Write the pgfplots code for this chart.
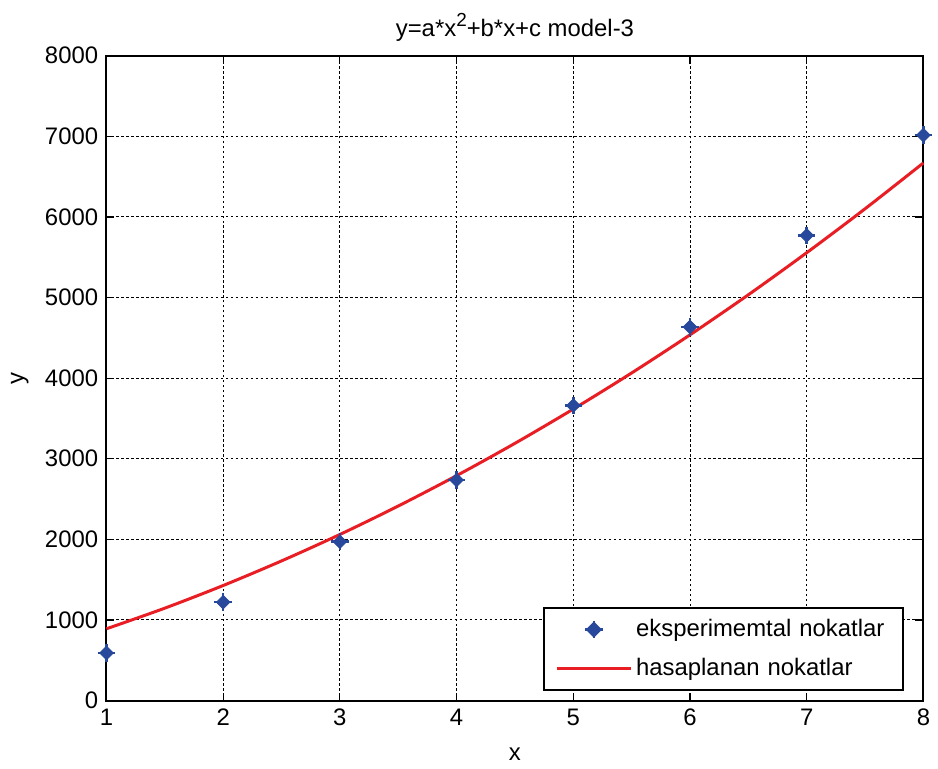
\documentclass[border=0pt]{standalone}
\usepackage{pgfplots}
\pgfplotsset{compat=1.18}
\usepackage{fontspec}
\setmainfont{Liberation Sans}
\definecolor{mblue}{RGB}{40,72,155}
\definecolor{mred}{RGB}{232,30,36}
\pgfplotsset{
  markleg/.style={legend image code/.code={
    \draw[mblue] plot[mark=square*, mark size=2.4pt, mark options={fill=mblue, draw=mblue, rotate=45}] coordinates {(18.5pt,0pt)};
    \draw[mblue] plot[mark=+, mark size=4.4pt, mark options={line width=1.3pt}] coordinates {(18.5pt,0pt)};
  }},
  lineleg/.style={legend image code/.code={\draw[mred, line width=1.5pt] (0pt,0pt) -- (37pt,0pt);}},
}
\begin{document}
\fontsize{12}{14}\selectfont
\begin{tikzpicture}
\begin{axis}[
  width=410.5pt, height=324pt, scale only axis,
  xmin=1, xmax=8, ymin=0, ymax=8000,
  xtick={1,2,3,4,5,6,7,8},
  ytick={0,1000,2000,3000,4000,5000,6000,7000,8000},
  scaled y ticks=false,
  /pgf/number format/assume math mode=true,
  /pgf/number format/1000 sep={},
  tick label style={font=\fontsize{12}{14}\selectfont},
  tick align=inside,
  major tick length=4pt,
  axis line style={line width=1pt},
  every tick/.style={black, line width=0.6pt},
  grid=major,
  major grid style={black, line width=0.5pt, dash pattern=on 1.2pt off 1.3pt},
  title={y=a*x\raisebox{0.42em}{\fontsize{9.5}{10}\selectfont 2}+b*x+c model-3},
  title style={font=\fontsize{12}{14}\selectfont, yshift=-3pt},
  xlabel={x}, ylabel={y},
  xlabel style={font=\fontsize{12}{14}\selectfont, yshift=-3pt},
  ylabel style={font=\fontsize{12}{14}\selectfont, yshift=0pt},
  legend cell align=left,
  legend style={at={(0.976,0.015)}, anchor=south east, draw=black, line width=1pt,
    font=\fontsize{12}{14}\selectfont, inner xsep=6pt, inner ysep=3.5pt,
    row sep=5pt, text width=126pt},
  clip=false,
]
\addplot[only marks, mark=square*, mark size=2.4pt, color=mblue, mark options={fill=mblue, draw=mblue, rotate=45}, markleg]
  coordinates {(1,590) (2,1220) (3,1970) (4,2735) (5,3660) (6,4635) (7,5770) (8,7015)};
\addlegendentry{eksperimemtal nokatlar}
\addplot[mred, line width=1.5pt, smooth, lineleg]
  coordinates {(1,890) (1.5,1146) (2,1427) (2.5,1732) (3,2060) (3.5,2413) (4,2790) (4.5,3191)
   (5,3616) (5.5,4064) (6,4537) (6.5,5034) (7,5556) (7.5,6101) (8,6670)};
\addlegendentry{hasaplanan nokatlar}
\addplot[only marks, mark=+, mark size=4.4pt, color=mblue, mark options={line width=1.3pt}, forget plot]
  coordinates {(1,590) (2,1220) (3,1970) (4,2735) (5,3660) (6,4635) (7,5770) (8,7015)};
\end{axis}
\path ([xshift=-53.5pt,yshift=-31.5pt]current axis.south west) rectangle ([xshift=5pt,yshift=28pt]current axis.north east);
\end{tikzpicture}
\end{document}
